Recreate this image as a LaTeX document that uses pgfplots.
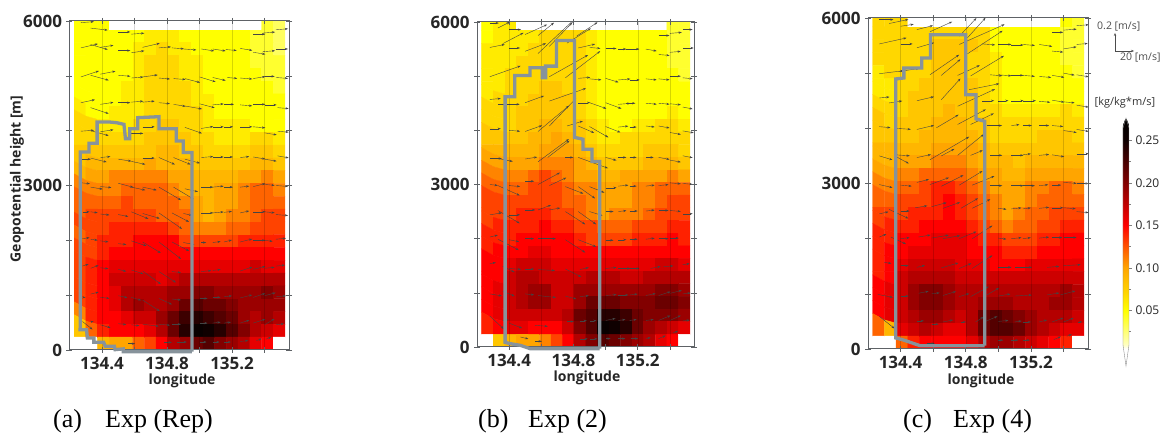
\documentclass[border=0pt]{standalone}
\usepackage{fontspec}
\setmainfont{Open Sans}
\newfontfamily\capfont{Liberation Serif}
\usepackage{pgfplots}
\usepackage{pgfplotstable}
\pgfplotsset{compat=1.18}
\usetikzlibrary{arrows.meta}
\definecolor{axisgray}{HTML}{5E6266}
\definecolor{outl}{HTML}{87939B}
\definecolor{vec}{HTML}{444444}

% flux in 0.01 kg/kg*m/s, 18 columns, top row first, 0 = no data
\pgfplotstableread[row sep=\\,header=false]{
5\\5\\5\\0\\0\\0\\0\\0\\0\\0\\0\\0\\0\\0\\0\\0\\4\\3\\
5\\5\\5\\5\\5\\5\\6\\6\\6\\5\\5\\5\\5\\5\\5\\4\\4\\3\\
5\\5\\5\\5\\5\\6\\6\\7\\6\\6\\5\\5\\5\\5\\5\\4\\4\\3\\
5\\5\\5\\5\\5\\6\\7\\7\\7\\6\\6\\5\\5\\5\\5\\4\\4\\4\\
5\\5\\5\\5\\5\\6\\7\\7\\7\\6\\6\\5\\5\\5\\5\\5\\4\\4\\
5\\5\\5\\5\\6\\6\\7\\7\\7\\7\\6\\5\\5\\5\\5\\5\\5\\4\\
5\\5\\5\\5\\6\\6\\7\\7\\7\\7\\6\\6\\5\\5\\5\\5\\5\\5\\
6\\5\\5\\6\\6\\6\\7\\7\\7\\7\\7\\6\\5\\5\\5\\5\\5\\5\\
7\\7\\6\\6\\6\\7\\7\\8\\8\\7\\7\\6\\6\\6\\6\\5\\5\\5\\
7\\7\\7\\7\\7\\7\\8\\8\\8\\8\\7\\7\\6\\6\\6\\7\\7\\6\\
8\\8\\8\\8\\8\\8\\8\\9\\9\\8\\8\\7\\7\\7\\7\\8\\8\\7\\
8\\9\\9\\9\\9\\9\\10\\9\\9\\9\\8\\8\\8\\8\\8\\9\\9\\8\\
9\\10\\10\\11\\11\\11\\11\\11\\10\\10\\9\\9\\9\\9\\10\\10\\11\\10\\
11\\11\\11\\11\\12\\12\\12\\12\\11\\10\\9\\9\\10\\10\\11\\12\\12\\11\\
12\\12\\12\\12\\13\\12\\12\\12\\12\\11\\10\\9\\10\\10\\11\\12\\12\\12\\
12\\13\\13\\13\\13\\13\\13\\12\\12\\12\\10\\9\\10\\11\\11\\12\\13\\13\\
13\\13\\13\\14\\14\\14\\14\\14\\13\\12\\11\\11\\11\\12\\12\\13\\13\\13\\
12\\13\\14\\14\\14\\15\\15\\15\\15\\13\\13\\13\\13\\13\\14\\14\\14\\14\\
13\\13\\14\\15\\15\\15\\15\\15\\15\\15\\15\\15\\15\\15\\15\\15\\15\\15\\
13\\14\\15\\16\\16\\16\\16\\16\\16\\16\\16\\16\\16\\16\\16\\17\\16\\16\\
13\\14\\15\\17\\17\\17\\17\\16\\17\\18\\18\\18\\18\\18\\18\\18\\18\\18\\
13\\14\\15\\16\\18\\18\\18\\18\\19\\19\\20\\20\\19\\19\\19\\19\\20\\19\\
13\\14\\15\\16\\18\\19\\18\\18\\19\\21\\22\\21\\21\\20\\19\\19\\19\\19\\
11\\14\\15\\15\\16\\17\\17\\19\\21\\23\\24\\23\\22\\21\\19\\18\\19\\18\\
8\\12\\14\\15\\15\\15\\16\\18\\21\\24\\26\\25\\24\\22\\20\\18\\17\\16\\
0\\0\\9\\10\\10\\12\\13\\15\\18\\19\\21\\22\\20\\19\\18\\16\\15\\0\\
}\fieldA
\pgfplotstableread[row sep=\\,header=false]{
5\\6\\6\\0\\0\\0\\0\\0\\0\\0\\0\\0\\0\\0\\0\\0\\4\\4\\
5\\6\\6\\6\\6\\7\\7\\7\\7\\6\\5\\5\\5\\5\\5\\5\\4\\4\\
6\\6\\6\\6\\7\\7\\7\\7\\7\\6\\5\\5\\5\\5\\5\\5\\4\\4\\
6\\6\\6\\7\\7\\7\\7\\7\\7\\6\\5\\5\\5\\5\\5\\5\\4\\4\\
6\\6\\7\\7\\7\\7\\7\\7\\7\\6\\5\\5\\5\\5\\5\\5\\5\\4\\
6\\6\\7\\7\\7\\8\\8\\7\\7\\6\\5\\5\\5\\5\\5\\5\\5\\5\\
6\\7\\7\\7\\8\\8\\8\\8\\7\\6\\5\\5\\5\\5\\5\\5\\5\\5\\
7\\7\\7\\8\\8\\8\\8\\8\\7\\6\\5\\5\\5\\5\\5\\5\\6\\5\\
7\\7\\7\\8\\8\\9\\9\\8\\8\\7\\6\\5\\5\\6\\6\\7\\7\\6\\
8\\8\\8\\8\\9\\9\\10\\9\\8\\7\\6\\6\\7\\7\\7\\7\\7\\7\\
9\\9\\9\\9\\9\\10\\10\\10\\9\\8\\7\\7\\7\\7\\8\\8\\8\\7\\
10\\10\\10\\10\\10\\11\\11\\11\\10\\9\\8\\8\\8\\8\\9\\9\\9\\8\\
11\\11\\11\\11\\12\\13\\12\\11\\10\\10\\9\\9\\10\\10\\10\\10\\11\\10\\
12\\12\\12\\12\\13\\13\\13\\12\\11\\11\\10\\10\\10\\11\\11\\12\\12\\12\\
13\\13\\13\\13\\13\\13\\13\\12\\12\\11\\10\\10\\10\\11\\11\\12\\13\\13\\
13\\13\\13\\14\\14\\14\\13\\13\\12\\11\\10\\11\\11\\11\\12\\13\\13\\13\\
13\\14\\14\\14\\14\\15\\14\\14\\13\\13\\12\\12\\12\\13\\13\\13\\14\\14\\
14\\14\\14\\15\\15\\15\\15\\15\\14\\13\\13\\13\\13\\14\\14\\14\\15\\14\\
14\\15\\15\\15\\16\\16\\15\\15\\15\\15\\15\\15\\15\\15\\15\\15\\15\\15\\
15\\15\\16\\17\\17\\17\\16\\16\\16\\16\\16\\16\\16\\16\\16\\17\\17\\16\\
15\\15\\17\\18\\18\\17\\17\\17\\17\\18\\18\\18\\17\\17\\18\\18\\18\\18\\
15\\16\\17\\18\\19\\19\\17\\17\\19\\19\\19\\19\\19\\19\\19\\20\\20\\19\\
15\\16\\17\\18\\19\\19\\17\\17\\19\\21\\21\\21\\20\\20\\20\\21\\21\\20\\
15\\16\\17\\17\\17\\17\\17\\18\\21\\22\\24\\24\\23\\21\\20\\20\\20\\19\\
14\\15\\16\\16\\15\\15\\15\\17\\20\\22\\26\\25\\24\\21\\19\\18\\17\\16\\
0\\8\\9\\10\\10\\11\\13\\15\\18\\20\\22\\21\\20\\19\\18\\16\\15\\0\\
}\fieldB
\pgfplotstableread[row sep=\\,header=false]{
7\\7\\7\\0\\0\\0\\0\\0\\0\\0\\0\\0\\0\\0\\0\\0\\5\\4\\
7\\7\\7\\7\\7\\7\\7\\7\\7\\7\\5\\5\\5\\5\\5\\5\\4\\4\\
7\\7\\7\\7\\7\\8\\8\\8\\8\\7\\5\\5\\5\\5\\5\\5\\4\\4\\
7\\7\\7\\7\\7\\8\\8\\8\\7\\7\\6\\5\\5\\5\\5\\5\\4\\4\\
6\\7\\7\\7\\7\\8\\8\\8\\7\\7\\6\\5\\5\\5\\5\\5\\5\\4\\
6\\6\\7\\7\\8\\8\\8\\8\\8\\7\\6\\5\\5\\5\\5\\5\\5\\5\\
6\\6\\7\\8\\8\\8\\8\\8\\8\\7\\6\\5\\5\\5\\5\\5\\5\\5\\
7\\7\\7\\8\\8\\8\\9\\8\\8\\7\\7\\6\\6\\6\\6\\6\\7\\6\\
8\\7\\8\\8\\8\\9\\9\\9\\8\\8\\7\\7\\7\\7\\7\\7\\7\\7\\
8\\8\\8\\8\\9\\9\\9\\9\\9\\8\\7\\7\\7\\7\\8\\8\\8\\7\\
9\\9\\9\\9\\9\\10\\10\\10\\10\\9\\8\\8\\8\\8\\8\\8\\8\\8\\
9\\9\\10\\10\\10\\11\\11\\11\\10\\9\\9\\9\\8\\9\\9\\9\\9\\9\\
10\\10\\11\\11\\12\\12\\12\\12\\11\\10\\10\\9\\9\\10\\10\\10\\10\\10\\
11\\11\\12\\12\\13\\14\\14\\13\\12\\11\\10\\10\\10\\11\\11\\12\\12\\11\\
12\\12\\13\\13\\13\\14\\15\\14\\13\\12\\11\\10\\10\\11\\12\\12\\12\\12\\
13\\13\\13\\14\\14\\14\\15\\14\\13\\12\\11\\10\\11\\12\\12\\13\\13\\13\\
13\\14\\14\\14\\15\\15\\15\\15\\14\\13\\12\\11\\12\\12\\13\\13\\14\\14\\
14\\14\\15\\15\\15\\16\\16\\16\\15\\14\\14\\13\\13\\13\\14\\14\\15\\15\\
14\\15\\15\\16\\16\\16\\16\\16\\15\\15\\15\\14\\14\\14\\15\\15\\15\\15\\
14\\15\\16\\17\\17\\17\\17\\16\\16\\16\\15\\15\\15\\16\\16\\16\\16\\16\\
14\\15\\17\\18\\18\\18\\18\\17\\17\\17\\17\\17\\17\\17\\17\\17\\17\\17\\
15\\16\\17\\19\\20\\20\\19\\18\\18\\18\\18\\18\\18\\18\\18\\18\\19\\18\\
15\\16\\17\\19\\20\\20\\19\\18\\18\\19\\19\\19\\18\\18\\18\\19\\19\\18\\
15\\16\\17\\18\\19\\19\\18\\17\\18\\21\\22\\21\\20\\19\\18\\18\\18\\17\\
12\\9\\16\\17\\18\\17\\16\\16\\18\\21\\22\\22\\21\\19\\18\\17\\16\\16\\
0\\0\\12\\14\\15\\15\\15\\15\\16\\18\\19\\19\\18\\17\\16\\15\\14\\0\\
}\fieldC

% wind vectors: longitude, height [m], then u and v in drawn length
\pgfplotstableread{
x y u v
134.27 5970 13 1
134.33 5870 17 -2
134.50 5800 12 0
134.58 5760 13 1
135.33 5760 12 0
135.39 5780 12 1
135.47 5840 12 1
134.27 5510 17 4
134.33 5570 17 -5
134.39 5520 13 2
134.50 5460 12 0
134.58 5420 13 2
134.65 5520 17 4
134.75 5510 12 1
134.83 5510 12 -1
134.90 5490 13 -1
135.01 5490 13 -2
135.08 5490 13 -2
135.16 5480 11 -1
135.25 5500 12 -2
135.33 5430 12 -2
135.39 5440 12 1
135.47 5490 12 0
134.27 4980 18 6
134.33 5010 18 -5
134.39 5030 15 3
134.50 5010 12 -1
134.58 4960 12 1
134.65 4980 15 2
134.75 4960 11 -1
134.84 4950 12 -1
134.91 4950 15 -4
135.00 4980 16 -5
135.08 4970 13 -3
135.17 4970 10 -1
135.25 4960 12 -1
135.33 4950 12 2
135.40 4990 10 0
135.47 4970 12 -1
134.27 4510 14 3
134.33 4420 18 -6
134.39 4480 13 2
134.50 4510 12 0
134.58 4520 12 1
134.65 4520 12 1
134.75 4510 11 -1
134.84 4480 12 -2
134.91 4450 17 -3
135.00 4490 15 -4
135.08 4470 11 1
135.15 4480 10 0
135.25 4470 12 -1
135.33 4480 12 0
135.40 4470 12 0
135.48 4420 11 -1
134.27 3990 13 1
134.33 4000 18 -5
134.39 3980 13 2
134.58 3950 12 0
134.65 4070 12 0
134.91 4060 17 -6
135.01 4040 12 2
135.08 4070 11 0
135.15 4070 9 0
135.25 4070 12 0
135.33 4070 12 -1
135.40 3960 12 -2
135.48 3990 11 -1
134.27 3480 10 0
134.33 3500 16 -4
134.39 3510 10 1
134.50 3480 13 -2
134.58 3440 14 -3
134.65 3500 12 0
134.75 3510 16 -7
134.84 3510 17 -7
134.91 3480 15 -4
135.01 3510 12 1
135.08 3520 11 0
135.15 3520 9 0
135.25 3510 9 1
135.33 3520 12 -2
135.40 3480 12 -2
135.48 3540 11 -2
134.27 3050 9 -1
134.33 2970 12 -2
134.39 2980 11 -1
134.50 3040 15 -4
134.58 2970 14 -3
134.65 2970 14 -3
134.75 2970 22 -13
134.84 2970 20 -12
134.91 2940 13 -3
135.01 2970 12 0
135.08 2970 11 1
135.15 2970 9 0
135.25 2970 9 1
135.33 2980 12 3
135.40 3020 10 -1
135.47 3000 12 -1
134.28 2520 7 0
134.33 2520 7 -1
134.39 2480 9 -1
134.50 2470 10 -2
134.58 2520 17 -7
134.65 2490 17 -5
134.75 2500 23 -16
134.83 2500 17 -9
134.90 2490 9 -2
135.01 2500 12 0
135.08 2500 11 1
135.15 2510 8 1
135.25 2500 9 2
135.33 2520 12 0
135.40 2520 10 -1
135.47 2470 12 -1
134.28 2030 7 1
134.33 2020 7 -1
134.39 1990 8 -1
134.50 1940 8 -1
134.58 1990 15 -5
134.65 1970 18 -11
134.75 1970 22 -17
134.83 1970 17 -9
134.90 1960 11 -2
135.01 1960 5 0
135.08 1960 8 1
135.15 1970 8 2
135.25 1970 12 3
135.33 2000 12 0
135.40 2000 8 -1
135.47 2020 10 1
134.28 1530 6 2
134.33 1490 8 3
134.39 1500 8 -1
134.50 1470 8 -2
134.58 1460 12 -4
134.65 1440 18 -13
134.75 1430 17 -11
134.83 1430 9 -1
135.01 1430 10 1
135.08 1450 8 1
135.25 1440 12 4
135.33 1470 12 3
135.40 1490 10 1
135.47 1530 9 1
134.28 960 3 0
134.33 1020 8 2
134.39 960 9 -1
134.50 990 9 -2
134.58 960 10 -3
134.65 910 17 -11
134.75 940 13 -6
134.83 930 9 -1
135.00 940 8 0
135.08 960 8 0
135.15 970 8 1
135.25 950 12 3
135.33 960 12 4
135.40 990 11 3
135.47 970 10 1
134.28 520 10 -8
134.33 510 3 1
134.39 460 10 -3
134.50 480 8 -1
134.58 460 8 -1
134.65 470 16 -2
134.75 470 11 -1
134.83 470 9 0
135.00 490 8 0
135.08 490 8 1
135.15 490 7 1
135.25 490 9 3
135.33 490 12 4
135.40 460 10 6
135.47 460 8 1
134.56 115 7 0
134.78 140 8 0
134.86 145 10 0
135.00 145 7 0
135.08 145 7 0
135.15 145 7 0
135.25 155 8 1
135.35 170 5 2
135.41 200 5 2
}\vecA
\pgfplotstableread{
x y u v
134.28 5980 9 0
134.33 5890 12 6
134.40 5860 12 0
134.36 5600 21 11
134.50 5770 22 10
134.58 5750 16 13
134.58 5420 36 34
134.65 5550 23 24
134.76 5610 24 15
134.82 5740 21 14
135.33 5750 11 0
135.40 5790 12 1
135.48 5860 10 0
134.28 5530 15 3
134.40 5520 11 0
134.50 5460 21 8
134.75 4970 35 27
134.83 5520 17 4
134.90 5530 11 -1
135.00 5510 11 0
135.08 5500 8 0
135.13 5500 13 0
135.25 5500 11 -2
135.33 5400 11 -1
135.40 5440 11 1
135.48 5520 11 0
134.28 4990 31 11
134.65 4990 39 22
134.83 4960 12 1
134.90 4950 12 -1
135.00 4960 13 -4
135.08 4930 12 1
135.15 4930 10 0
135.25 4950 11 -1
135.33 4950 11 -1
135.40 5000 11 0
135.48 4970 10 -1
134.28 4570 11 1
134.33 4480 22 0
134.50 4510 19 7
134.65 4540 37 13
134.83 4510 12 0
134.90 4510 17 -6
135.00 4510 16 -6
135.08 4480 12 1
135.13 4500 9 0
135.25 4500 11 -1
135.33 4500 11 -1
135.40 4490 11 -1
135.48 4430 10 -2
134.28 4030 11 0
134.40 4000 11 -1
134.50 3980 17 6
134.58 3980 31 26
134.65 4080 27 28
134.76 4080 16 5
134.83 4080 16 -7
134.90 4070 19 -11
135.00 4070 15 -6
135.08 4060 10 1
135.15 4060 7 0
135.25 4080 9 -1
135.33 4080 11 -2
135.40 3960 11 -2
135.48 3990 11 -2
134.28 3480 12 0
134.33 3480 15 -3
134.50 3470 12 2
134.58 3420 31 23
134.64 3500 22 17
134.75 3500 8 0
134.83 3500 30 -11
135.00 3500 11 -3
135.08 3500 8 0
135.15 3500 7 0
135.25 3500 8 0
135.33 3500 11 -2
135.40 3450 11 -2
135.48 3530 10 -2
134.28 3000 8 -1
134.33 2980 22 -10
134.40 2980 11 -1
134.50 3060 9 0
134.58 3000 22 12
134.65 2980 17 8
134.75 2960 18 -7
134.83 2960 17 -12
134.90 2960 15 -6
135.00 2940 11 0
135.08 2970 10 1
135.15 2970 7 0
135.25 2970 9 1
135.33 2980 10 1
135.40 3030 11 -1
135.48 3020 10 -1
134.28 2440 12 2
134.33 2520 22 -13
134.40 2440 11 0
134.50 2530 10 0
134.58 2530 13 5
134.65 2530 11 2
134.75 2500 20 -13
134.83 2500 18 -13
134.90 2500 13 -4
135.00 2500 8 0
135.08 2500 8 1
135.15 2510 8 0
135.25 2510 9 1
135.33 2520 10 0
135.40 2520 11 -1
135.48 2460 10 0
134.28 2030 8 2
134.33 1990 21 -11
134.40 1980 10 -2
134.50 2000 9 0
134.58 2000 18 0
134.75 1980 20 -13
134.83 1980 18 -7
135.00 1970 8 0
135.08 1980 8 0
135.15 1990 8 0
135.25 1990 9 1
135.33 2000 10 0
135.40 2010 9 0
134.28 1540 6 1
134.36 1490 12 -6
134.40 1450 12 -1
134.50 1440 9 0
134.58 1430 17 -1
134.75 1440 16 -8
134.84 1430 9 2
135.00 1450 11 1
135.08 1450 12 0
135.15 1450 10 0
135.28 1450 10 2
135.36 1480 10 1
135.48 1520 7 1
134.28 980 12 -2
134.36 1030 12 -5
134.50 980 9 -1
134.58 950 18 -2
134.75 940 11 -3
134.84 930 9 1
135.00 950 11 1
135.08 960 10 0
135.15 960 8 1
135.25 950 10 2
135.33 950 12 4
135.40 990 12 3
135.48 980 8 1
134.28 570 14 -13
134.36 500 6 0
134.40 440 13 -5
134.56 400 13 -1
134.76 470 7 0
134.84 485 7 0
134.90 485 7 0
135.00 490 10 2
135.08 490 7 1
135.15 490 7 1
135.25 490 8 1
135.33 490 12 5
135.40 490 11 5
135.48 480 7 1
134.47 185 8 -2
134.56 105 7 0
134.84 150 8 0
134.90 150 8 0
135.00 155 5 0
135.08 155 7 0
135.16 155 7 0
135.25 155 5 1
135.33 155 7 3
135.42 260 5 2
}\vecB
\pgfplotstableread{
x y u v
134.27 5970 14 0
134.33 5900 19 4
134.40 5850 13 2
134.50 5790 16 4
134.58 5750 22 10
134.76 5670 17 18
134.81 5640 18 20
135.33 5740 11 0
135.40 5780 13 1
135.48 5860 12 1
134.27 5530 27 6
134.40 5530 12 0
134.50 5460 17 5
134.76 5520 45 20
134.81 5350 35 23
134.90 5530 13 -1
135.00 5520 13 0
135.08 5510 12 0
135.15 5520 12 -1
135.25 5520 13 -2
135.33 5400 11 -1
135.40 5440 13 2
135.48 5520 11 1
134.27 4990 24 3
134.39 5030 20 3
134.58 4970 29 20
134.65 4960 19 16
134.75 4960 22 10
134.83 4950 33 20
134.95 4970 12 -1
135.00 4970 13 -1
135.08 4960 12 0
135.15 4960 12 -1
135.25 4940 12 -1
135.33 4960 12 -2
135.40 5000 11 -2
135.48 4970 12 -2
134.27 4550 10 1
134.33 4460 13 2
134.50 4500 17 4
134.65 4520 19 21
134.75 4400 37 17
134.82 4700 30 6
134.90 4500 12 0
135.00 4500 10 0
135.08 4500 12 0
135.15 4500 13 0
135.25 4490 11 -1
135.33 4510 12 -2
135.40 4480 11 -1
135.48 4420 12 -2
134.27 4030 11 -1
134.37 4000 15 -1
134.50 3980 17 4
134.62 4010 22 13
134.75 4070 28 15
134.83 4070 23 11
134.93 4050 15 0
135.08 4050 8 1
135.15 4050 9 0
135.25 4050 10 0
135.33 4050 11 -1
135.40 3960 13 -2
135.48 3980 12 -2
134.27 3500 13 -4
134.37 3520 14 -1
134.37 3490 13 -7
134.50 3470 14 3
134.58 3430 39 23
134.65 3500 13 7
134.75 3510 26 21
134.83 3510 12 5
134.95 3510 12 0
135.08 3510 12 0
135.15 3520 8 1
135.25 3510 10 1
135.33 3520 12 -2
135.48 3540 12 0
134.27 2980 13 -3
134.40 2970 11 -1
134.50 3020 12 3
134.58 2980 19 7
134.65 2950 22 11
134.76 2970 23 14
134.84 2970 22 9
134.95 2960 12 0
135.08 2960 12 0
135.15 2960 12 0
135.25 2960 9 1
135.33 2970 9 0
135.40 3020 13 -1
135.48 3000 12 0
134.27 2450 9 2
134.33 2530 19 -9
134.40 2500 9 0
134.49 2560 12 2
134.59 2580 15 4
134.66 2550 17 6
134.77 2550 17 10
134.84 2550 18 9
135.00 2550 8 -1
135.08 2540 10 1
135.15 2540 8 1
135.25 2550 10 1
135.33 2560 11 0
135.40 2560 12 -1
135.48 2490 12 -1
134.27 2030 7 3
134.34 2030 15 -7
134.40 2000 9 1
134.51 2030 12 2
134.59 2010 17 3
134.66 2000 17 3
134.76 2000 17 7
134.84 2000 20 13
135.00 2010 8 -1
135.08 2000 10 1
135.15 2000 8 1
135.25 2010 10 1
135.33 2020 10 0
135.40 2020 13 0
134.30 1570 7 -1
134.40 1510 8 0
134.50 1480 8 2
134.65 1470 17 5
134.76 1460 12 5
134.84 1460 20 13
135.00 1480 13 0
135.10 1480 17 0
135.30 1480 12 1
135.40 1510 17 1
134.26 990 15 -3
134.40 960 8 0
134.51 1010 10 2
134.59 1000 8 1
134.66 970 13 4
134.76 950 10 3
134.83 950 18 10
134.93 980 12 7
135.00 960 12 2
135.10 960 17 1
135.30 980 12 2
135.38 980 15 4
134.27 590 15 -12
134.50 510 7 0
134.59 450 7 0
134.66 490 10 2
134.77 490 5 0
134.86 490 8 5
134.92 500 12 5
135.00 500 10 1
135.10 490 7 1
135.15 490 8 0
135.25 490 8 2
135.33 490 11 4
135.40 490 10 4
135.49 490 4 0
134.56 100 8 0
135.00 160 5 0
135.08 160 7 0
135.15 160 7 0
135.34 170 7 3
135.42 230 5 2
}\vecC

\pgfplotsset{
  panel/.style={
    scale only axis, anchor=south west,
    xmin=134.2, xmax=135.55, ymin=0, ymax=6000,
  },
  heat/.style={
    panel, axis on top,
    colormap={flux}{rgb255(0)=(255,255,255) rgb255(1)=(255,255,255) rgb255(2)=(255,255,190)
      rgb255(10)=(255,255,0) rgb255(14)=(255,215,0) rgb255(20)=(255,165,0) rgb255(24)=(255,100,0)
      rgb255(30)=(255,0,0) rgb255(40)=(130,0,0) rgb255(50)=(15,0,0) rgb255(55)=(0,0,0)},
    point meta min=0, point meta max=0.275,
    axis line style={axisgray, line width=1pt},
    xtick={134.4,134.6,134.8,135,135.2,135.4},
    xticklabels={134.4,,134.8,,135.2,},
    ytick={0,1000,2000,3000,4000,5000,6000},
    yticklabels={0,,,3000,,,6000},
    xtick pos=both, ytick pos=both,
    xticklabel pos=bottom, yticklabel pos=left,
    tick align=center, major tick length=6pt,
    tick style={axisgray, line width=.6pt},
    xmajorgrids, major grid style={black, opacity=.16, line width=.4pt},
    tick label style={font=\fontsize{17}{17}\selectfont\bfseries, text=black!85},
    x tick label style={yshift=-1pt},
    y tick label style={xshift=-1pt},
    xlabel={longitude},
    xlabel style={font=\fontsize{14}{14}\selectfont\bfseries, text=black!85},
  },
  fluxcells/.style={
    matrix plot*, mesh/cols=18, point meta=explicit,
  },
  winds/.style={
    point meta=none, vec, line width=.4pt, -{Stealth[length=3.2pt,width=2.2pt]},
    quiver={u=\thisrow{u}/162, v=\thisrow{v}*18.2},
  },
  boxline/.style={point meta=none, outl, line width=3.3pt, line join=miter},
}
\newcommand{\cx}{134.265+0.072*mod(\coordindex,18)}
\newcommand{\cy}{5957-233.6*floor(\coordindex/18)}

\begin{document}
\begin{tikzpicture}[x=1pt,y=1pt]
\path[use as bounding box] (0,0) rectangle (1168,435);

% (a)
\begin{axis}[heat, at={(69.5pt,85pt)}, width=219.5pt, height=329pt,
  xlabel style={at={(rel axis cs:0.513,-0.094)}, anchor=center},
  ylabel={Geopotential height [m]},
  ylabel style={at={(rel axis cs:-0.239,0.52)}, anchor=center, rotate=0,
    font=\fontsize{14}{14}\selectfont\bfseries, text=black!85}]
\addplot[fluxcells] table[x index=0, y index=0, x expr=\cx, y expr=\cy, meta expr=\thisrowno{0}*0.01] \fieldA;
\addplot[winds] table \vecA;
\end{axis}
\begin{axis}[panel, hide axis, clip=false, at={(69.5pt,85pt)}, width=219.5pt, height=329pt]
\addplot[boxline] coordinates {(134.953,-30) (134.953,3600) (134.90,3600) (134.90,3812) (134.857,3812) (134.857,4036) (134.75,4036) (134.75,4255) (134.62,4237) (134.62,4036) (134.57,4036) (134.57,3855) (134.544,3855) (134.535,4115) (134.49,4145) (134.445,4158) (134.37,4158) (134.37,3770) (134.32,3770) (134.32,3612) (134.266,3612) (134.266,370) (134.255,370) (134.305,370) (134.31,218) (134.35,218) (134.35,140) (134.41,140) (134.42,67) (134.476,67) (134.48,6) (134.53,20) (134.53,-30) (134.953,-30)};
\end{axis}

% (b)
\begin{axis}[heat, at={(477pt,88pt)}, width=217pt, height=325pt,
  xlabel style={at={(rel axis cs:0.507,-0.095)}, anchor=center}]
\addplot[fluxcells] table[x index=0, y index=0, x expr=\cx, y expr=\cy, meta expr=\thisrowno{0}*0.01] \fieldB;
\addplot[winds] table \vecB;
\end{axis}
\begin{axis}[panel, hide axis, clip=false, at={(477pt,88pt)}, width=217pt, height=325pt]
\addplot[boxline] coordinates {(134.963,-30) (134.963,3425) (134.915,3425) (134.915,3652) (134.86,3652) (134.86,3836) (134.806,3870) (134.806,5657) (134.695,5657) (134.695,5185) (134.627,5185) (134.627,4970) (134.606,4970) (134.606,5154) (134.544,5154) (134.53,5154) (134.53,5013) (134.435,5013) (134.435,4620) (134.375,4620) (134.375,85) (134.41,60) (134.47,30) (134.53,-30) (134.963,-30)};
\end{axis}

% (c)
\begin{axis}[heat, at={(868pt,86pt)}, width=220pt, height=331pt,
  xlabel style={at={(rel axis cs:0.514,-0.097)}, anchor=center},
  colorbar,
  colorbar style={
    at={(1.159,-0.012)}, anchor=south west,
    scale only axis, width=6pt, height=234pt,
    axis line style={draw=none},
    ytick={0.05,0.10,0.15,0.20,0.25},
    yticklabels={0.05,0.10,0.15,0.20,0.25},
    minor ytick={0.025,0.075,0.125,0.175,0.225},
    ytick pos=right, yticklabel pos=right, tick align=outside,
    major tick length=3pt, minor tick length=2pt,
    tick style={black!50, line width=.4pt},
    y tick label style={font=\fontsize{12}{12}\selectfont, text=black!85, xshift=0pt},
  }]
\addplot[fluxcells] table[x index=0, y index=0, x expr=\cx, y expr=\cy, meta expr=\thisrowno{0}*0.01] \fieldC;
\addplot[winds] table \vecC;
\end{axis}
\begin{axis}[panel, hide axis, clip=false, at={(868pt,86pt)}, width=220pt, height=331pt]
\addplot[boxline] coordinates {(134.916,60) (134.916,4128) (134.863,4170) (134.863,4610) (134.80,4610) (134.80,5698) (134.584,5698) (134.584,5275) (134.53,5275) (134.53,5094) (134.44,5094) (134.42,5094) (134.42,4913) (134.37,4895) (134.37,200) (134.41,170) (134.46,120) (134.52,60) (134.916,60)};
\end{axis}

% colour bar tips
\fill[white] (1121.5,318) -- (1126,318) -- (1121.5,306.5) -- cycle;
\fill[white] (1130.5,318) -- (1126,318) -- (1130.5,306.5) -- cycle;
\draw[black!45, line width=.4pt] (1126,317) -- (1129,307) -- (1129,90) -- (1126,69) -- (1123,90) -- (1123,307) -- cycle;
\node[anchor=west, inner sep=0pt, font=\fontsize{11}{11}\selectfont, text=black!80] at (1094.5,332) {[kg/kg*m/s]};

% scale arrows
\draw[black!70, line width=.5pt, -{Stealth[length=3pt,width=2.4pt]}] (1115,384) -- (1115,402);
\draw[black!70, line width=.5pt, -{Stealth[length=3pt,width=2.4pt]}] (1115,384) -- (1134,384);
\node[anchor=west, inner sep=0pt, font=\fontsize{10.5}{10.5}\selectfont, text=black!70] at (1097,408) {0.2 [m/s]};
\node[anchor=west, inner sep=0pt, font=\fontsize{10.5}{10.5}\selectfont, text=black!70] at (1120,377) {20 [m/s]};

% captions
\node[anchor=west, inner sep=0pt, font=\capfont\fontsize{26}{26}\selectfont] at (53,14) {(a)};
\node[anchor=west, inner sep=0pt, font=\capfont\fontsize{26}{26}\selectfont] at (105,14) {Exp (Rep)};
\node[anchor=west, inner sep=0pt, font=\capfont\fontsize{26}{26}\selectfont] at (478,14) {(b)};
\node[anchor=west, inner sep=0pt, font=\capfont\fontsize{26}{26}\selectfont] at (528,14) {Exp (2)};
\node[anchor=west, inner sep=0pt, font=\capfont\fontsize{26}{26}\selectfont] at (903,14) {(c)};
\node[anchor=west, inner sep=0pt, font=\capfont\fontsize{26}{26}\selectfont] at (953,14) {Exp (4)};
\end{tikzpicture}
\end{document}
